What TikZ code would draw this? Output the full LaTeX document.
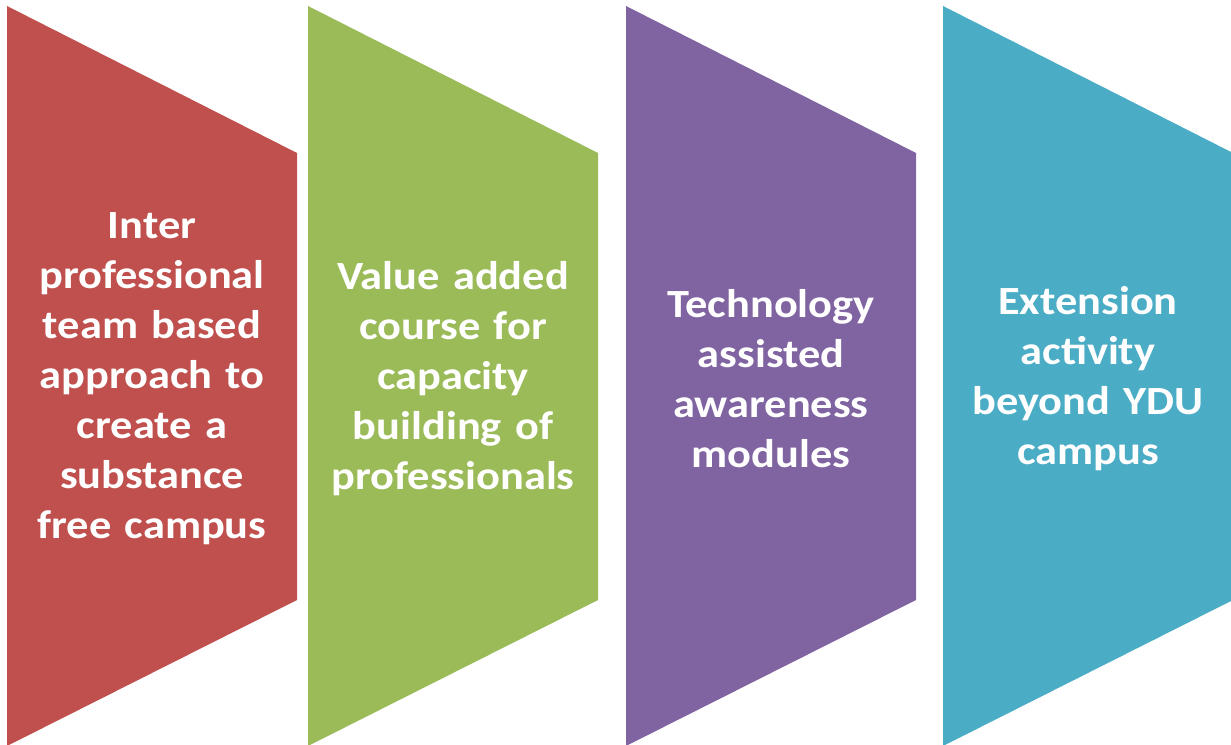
\documentclass[tikz,border=0pt]{standalone}
\usepackage{fontspec}
\setmainfont{Carlito}[FakeStretch=1.11]
\definecolor{stepred}{HTML}{C0504D}
\definecolor{stepgreen}{HTML}{9BBB59}
\definecolor{steppurple}{HTML}{8064A2}
\definecolor{stepteal}{HTML}{4BACC6}
\begin{document}
\begin{tikzpicture}[x=1pt,y=1pt,
  label text/.style={text=white,align=center,text width=280pt,font=\fontsize{40}{50}\selectfont\bfseries}]
\useasboundingbox (0,0) rectangle (1231,744);
% Four panels, full height on the left, narrow on the right
\foreach \x/\col in {7/stepred,308/stepgreen,626/steppurple,943/stepteal}
  \fill[\col] (\x,738) -- (\x+290,591) -- (\x+290,144) -- (\x,-2) -- cycle;
% Panel texts
\node[label text] (inter) at (152,365) {Inter\\professional\\team based\\approach to\\create a\\substance\\free campus};
\node[label text] (value) at (453,365) {Value added\\course for\\capacity\\building of\\professionals};
\node[label text] (tech) at (771,365) {Technology\\assisted\\awareness\\modules};
\node[label text] (ext) at (1088,365) {Extension\\activity\\beyond YDU\\campus};
\end{tikzpicture}
\end{document}
